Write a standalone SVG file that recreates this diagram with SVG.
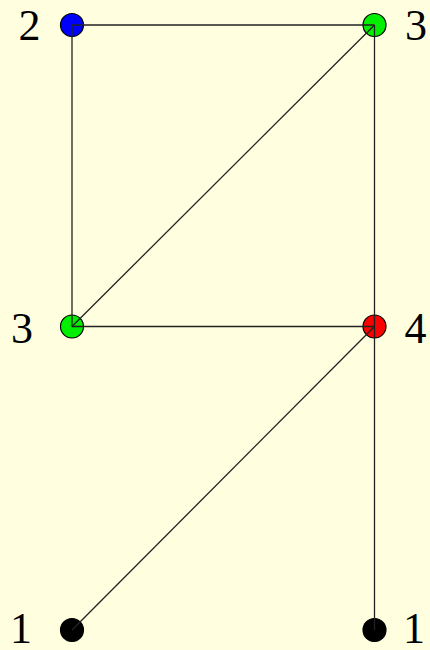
<svg xmlns="http://www.w3.org/2000/svg" width="430" height="650" viewBox="0 0 430 650">
<style>
.node{stroke:#000;stroke-width:1.2}
.edge{stroke:#222;stroke-width:1.3;fill:none}
.lbl{font-family:"Liberation Serif","Times New Roman",serif;font-size:44px;fill:#000}
</style>
<rect width="430" height="650" fill="#FFFFE0"/>
<g id="n1"><circle class="node" cx="72" cy="25" r="11.5" fill="#0000FF"/><text class="lbl" x="18.5" y="39.5">2</text></g>
<g id="n2"><circle class="node" cx="374.5" cy="25" r="11.5" fill="#00EE00"/><text class="lbl" x="405" y="39.5">3</text></g>
<g id="n3"><circle class="node" cx="72" cy="326.5" r="11.5" fill="#00EE00"/><text class="lbl" x="11" y="342.5">3</text></g>
<g id="n4"><circle class="node" cx="374.5" cy="326.5" r="11.5" fill="#FF0000"/><text class="lbl" x="404.5" y="342.5">4</text></g>
<g id="n5"><circle class="node" cx="72" cy="630" r="11.5" fill="#000"/><text class="lbl" x="10" y="643">1</text></g>
<g id="n6"><circle class="node" cx="374.5" cy="630" r="11.5" fill="#000"/><text class="lbl" x="403" y="643">1</text></g>
<g id="edges">
<line class="edge" x1="72" y1="25" x2="374.5" y2="25"/>
<line class="edge" x1="72" y1="25" x2="72" y2="326.5"/>
<line class="edge" x1="374.5" y1="25" x2="374.5" y2="326.5"/>
<line class="edge" x1="72" y1="326.5" x2="374.5" y2="25"/>
<line class="edge" x1="72" y1="326.5" x2="374.5" y2="326.5"/>
<line class="edge" x1="72" y1="630" x2="374.5" y2="326.5"/>
<line class="edge" x1="374.5" y1="326.5" x2="374.5" y2="630"/>
</g>
</svg>
